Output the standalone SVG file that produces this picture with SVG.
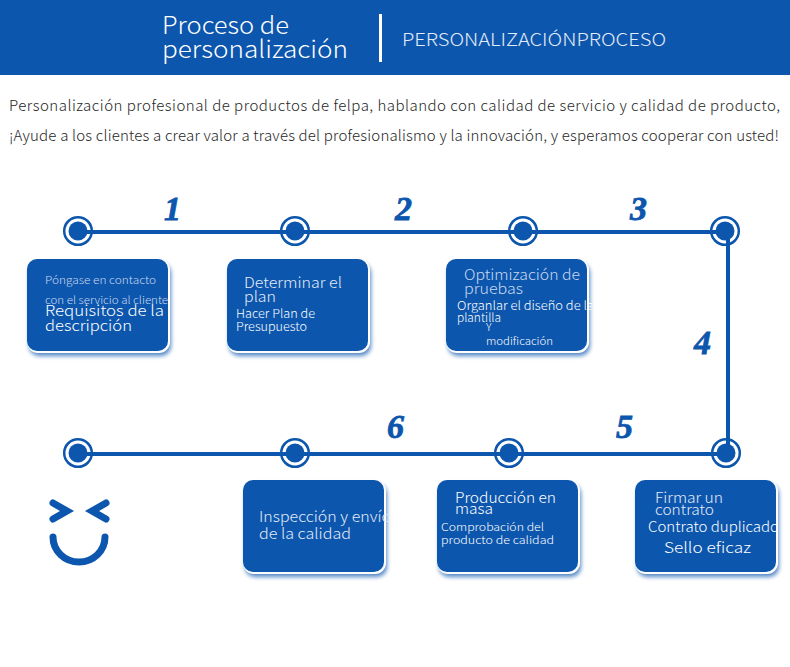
<svg xmlns="http://www.w3.org/2000/svg" width="790" height="667" viewBox="0 0 790 667">
<style>
text{font-family:"Noto Sans CJK SC","Noto Sans",sans-serif;fill:#fff;font-weight:300}
.card{fill:#0c56ad}
.edge{fill:#fff}
.shadow{fill:#0c56ad;opacity:.7;filter:url(#blur)}
.ring{fill:none;stroke:#0c56ad;stroke-width:2.5}
.dot{fill:#0c56ad}
.wire{fill:none;stroke:#0c56ad;stroke-width:4}
.num{font-family:"Liberation Serif",serif;font-style:italic;font-weight:bold;font-size:34px;fill:#0c56ad;stroke:#0c56ad;stroke-width:.8}
.lead{fill:#262626;font-size:15px}
.t11{font-size:11px}
.t15{font-size:15px}
.dim{fill:#c9d8ee}
.soft{fill:#e3ebf7}
.face{fill:none;stroke:#0c56ad;stroke-width:7;stroke-linecap:round;stroke-linejoin:miter}
</style>
<defs>
<filter id="blur" x="-20%" y="-20%" width="140%" height="140%"><feGaussianBlur stdDeviation="2"/></filter>
<clipPath id="c1"><rect x="27" y="259" width="142" height="93"/></clipPath>
<clipPath id="c3"><rect x="446" y="259" width="146" height="93"/></clipPath>
<clipPath id="c4"><rect x="635" y="480" width="143" height="93"/></clipPath>
<clipPath id="c6"><rect x="243" y="480" width="145" height="93"/></clipPath>
</defs>
<rect x="0" y="0" width="790" height="75" fill="#0c56ad"/>
<g id="header">
<text x="162" y="34" font-size="24" textLength="127" lengthAdjust="spacingAndGlyphs">Proceso de</text>
<text x="162" y="58" font-size="24" textLength="186" lengthAdjust="spacingAndGlyphs">personalización</text>
<rect x="379" y="14" width="3" height="48" fill="#fff"/>
<text x="402" y="46" font-size="18" class="soft" textLength="264" lengthAdjust="spacingAndGlyphs">PERSONALIZACIÓNPROCESO</text>
</g>
<g id="intro">
<text x="9" y="111" class="lead" textLength="771">Personalización profesional de productos de felpa, hablando con calidad de servicio y calidad de producto,</text>
<text x="9" y="141" class="lead" textLength="770">¡Ayude a los clientes a crear valor a través del profesionalismo y la innovación, y esperamos cooperar con usted!</text>
</g>
<g id="dot-1"><circle class="ring" cx="78" cy="231" r="13.8"/><circle class="dot" cx="78" cy="231" r="9.5"/></g>
<g id="dot-2"><circle class="ring" cx="295" cy="231" r="13.8"/><circle class="dot" cx="295" cy="231" r="9.5"/></g>
<g id="dot-3"><circle class="ring" cx="523" cy="231" r="13.8"/><circle class="dot" cx="523" cy="231" r="9.5"/></g>
<g id="dot-4"><circle class="ring" cx="725" cy="231" r="13.8"/><circle class="dot" cx="725" cy="231" r="9.5"/></g>
<g id="dot-5"><circle class="ring" cx="726" cy="453" r="13.8"/><circle class="dot" cx="726" cy="453" r="9.5"/></g>
<g id="dot-6"><circle class="ring" cx="509" cy="453" r="13.8"/><circle class="dot" cx="509" cy="453" r="9.5"/></g>
<g id="dot-7"><circle class="ring" cx="295" cy="453" r="13.8"/><circle class="dot" cx="295" cy="453" r="9.5"/></g>
<g id="dot-8"><circle class="ring" cx="78" cy="453" r="13.8"/><circle class="dot" cx="78" cy="453" r="9.5"/></g>
<g id="connectors">
<path class="wire" d="M78 232H726"/>
<path class="wire" d="M728 232V453"/>
<path class="wire" d="M78 454H726"/>
</g>
<g id="step-numbers">
<text class="num" x="164" y="220">1</text>
<text class="num" x="395" y="220">2</text>
<text class="num" x="630" y="220">3</text>
<text class="num" x="694" y="354">4</text>
<text class="num" x="616" y="438">5</text>
<text class="num" x="387" y="438">6</text>
</g>
<g id="card-1">
<rect class="shadow" x="29" y="263" width="142" height="93" rx="10"/>
<rect class="edge" x="27" y="259" width="143" height="94" rx="11"/>
<rect class="card" x="27" y="259" width="141" height="92" rx="10"/>
<g clip-path="url(#c1)">
<text x="45" y="284" class="t11 dim" textLength="111" lengthAdjust="spacingAndGlyphs">Póngase en contacto</text>
<text x="45" y="304" class="t11 dim" textLength="123" lengthAdjust="spacingAndGlyphs">con el servicio al cliente</text>
<text x="45" y="316" class="t15" textLength="119" lengthAdjust="spacingAndGlyphs">Requisitos de la</text>
<text x="45" y="331" class="t15" textLength="87" lengthAdjust="spacingAndGlyphs">descripción</text>
</g>
</g>
<g id="card-2">
<rect class="shadow" x="229" y="263" width="142" height="93" rx="10"/>
<rect class="edge" x="227" y="259" width="143" height="94" rx="11"/>
<rect class="card" x="227" y="259" width="141" height="92" rx="10"/>
<text x="244" y="288" class="t15 soft" textLength="98" lengthAdjust="spacingAndGlyphs">Determinar el</text>
<text x="244" y="302" class="t15 soft" textLength="32" lengthAdjust="spacingAndGlyphs">plan</text>
<text x="236" y="318" font-size="12" textLength="79" lengthAdjust="spacingAndGlyphs">Hacer Plan de</text>
<text x="236" y="331" font-size="12" textLength="71" lengthAdjust="spacingAndGlyphs">Presupuesto</text>
</g>
<g id="card-3">
<rect class="shadow" x="448" y="263" width="142" height="93" rx="10"/>
<rect class="edge" x="446" y="259" width="143" height="94" rx="11"/>
<rect class="card" x="446" y="259" width="141" height="92" rx="10"/>
<g clip-path="url(#c3)">
<text x="464" y="280" class="t15 dim" textLength="116" lengthAdjust="spacingAndGlyphs">Optimización de</text>
<text x="464" y="294" class="t15 dim" textLength="59" lengthAdjust="spacingAndGlyphs">pruebas</text>
<text x="457" y="310" font-size="12" textLength="137" lengthAdjust="spacingAndGlyphs">Organlar el diseño de la</text>
<text x="457" y="322" font-size="12" textLength="44" lengthAdjust="spacingAndGlyphs">plantilla</text>
<text x="486" y="331" class="t11">Y</text>
<text x="486" y="345" class="t11" textLength="67" lengthAdjust="spacingAndGlyphs">modificación</text>
</g>
</g>
<g id="card-4">
<rect class="shadow" x="637" y="484" width="142" height="93" rx="10"/>
<rect class="edge" x="635" y="480" width="143" height="94" rx="11"/>
<rect class="card" x="635" y="480" width="141" height="92" rx="10"/>
<g clip-path="url(#c4)">
<text x="655" y="503" class="t15 soft" textLength="68" lengthAdjust="spacingAndGlyphs">Firmar un</text>
<text x="655" y="515" class="t15 soft" textLength="59" lengthAdjust="spacingAndGlyphs">contrato</text>
<text x="648" y="532" font-size="14" textLength="131" lengthAdjust="spacingAndGlyphs">Contrato duplicado</text>
<text x="664" y="553" class="t15" textLength="87" lengthAdjust="spacingAndGlyphs">Sello eficaz</text>
</g>
</g>
<g id="card-5">
<rect class="shadow" x="439" y="484" width="142" height="93" rx="10"/>
<rect class="edge" x="437" y="480" width="143" height="94" rx="11"/>
<rect class="card" x="437" y="480" width="141" height="92" rx="10"/>
<text x="455" y="503" class="t15" textLength="101" lengthAdjust="spacingAndGlyphs">Producción en</text>
<text x="455" y="514" class="t15" textLength="38" lengthAdjust="spacingAndGlyphs">masa</text>
<text x="441" y="531" class="t11" textLength="103" lengthAdjust="spacingAndGlyphs">Comprobación del</text>
<text x="441" y="544" class="t11" textLength="113" lengthAdjust="spacingAndGlyphs">producto de calidad</text>
</g>
<g id="card-6">
<rect class="shadow" x="245" y="484" width="142" height="93" rx="10"/>
<rect class="edge" x="243" y="480" width="143" height="94" rx="11"/>
<rect class="card" x="243" y="480" width="141" height="92" rx="10"/>
<g clip-path="url(#c6)">
<text x="259" y="522" class="t15 soft" textLength="132" lengthAdjust="spacingAndGlyphs">Inspección y envío</text>
<text x="259" y="539" class="t15 soft" textLength="92" lengthAdjust="spacingAndGlyphs">de la calidad</text>
</g>
</g>
<g id="smiley">
<path class="face" d="M53 503L67 511L53 519"/>
<path class="face" d="M106 503L92 511L106 519"/>
<path class="face" d="M53 537A26 25 0 0 0 105 537"/>
</g>
</svg>
